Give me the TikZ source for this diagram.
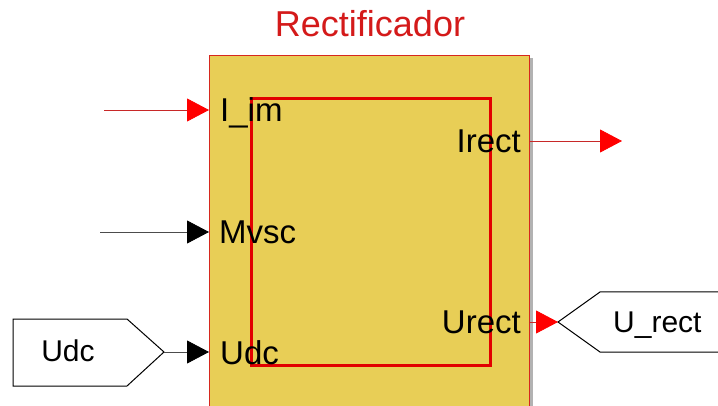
\documentclass[tikz,border=0pt]{standalone}
\usepackage{fontspec}
\setmainfont{Liberation Sans}
\usetikzlibrary{arrows.meta}
\definecolor{blkyellow}{RGB}{232,206,86}
\definecolor{blkborder}{RGB}{214,40,30}
\definecolor{innerred}{RGB}{226,0,0}
\definecolor{titlered}{RGB}{212,26,26}
\definecolor{sigred}{RGB}{200,40,40}
\begin{document}
\begin{tikzpicture}[x=1pt,y=-1pt,
  lbl/.style={inner sep=0pt, font=\fontsize{33}{38}\selectfont},
  glbl/.style={inner sep=0pt, font=\fontsize{30}{34}\selectfont},
  redsig/.style={draw=sigred, line width=0.8pt, -{Triangle[length=22pt,width=23pt,fill=red,color=red]}},
  blksig/.style={draw=black!70, line width=0.8pt, -{Triangle[length=22pt,width=23pt,fill=black,color=black]}},
  gotoshape/.style={draw=black, fill=white, line width=1pt}]
\clip (0,0) rectangle (718,406);
\fill[white] (0,0) rectangle (718,406);
% title
\node[inner sep=0pt, font=\fontsize{36}{40}\selectfont, text=titlered] (title) at (370,24) {Rectificador};
% shadow and block
\fill[black!30] (212,58) rectangle (533,420);
\node[draw=blkborder, fill=blkyellow, line width=1pt, minimum width=320pt, minimum height=370pt, anchor=north west, inner sep=0pt] (blk) at (209,55) {};
\draw[innerred, line width=3pt] (251,99) rectangle (490,365);
% port coordinates
\coordinate (pim) at (209,110);
\coordinate (pmvsc) at (209,232);
\coordinate (pudc) at (209,352);
\coordinate (pirect) at (529,141);
\coordinate (purect) at (529,322);
% port labels
\node[lbl, anchor=base west] (lim) at (220,122) {I\_im};
\node[lbl, anchor=base west] (lmvsc) at (219,244) {Mvsc};
\node[lbl, anchor=base west] (ludc) at (220,364) {Udc};
\node[lbl, anchor=base east] (lirect) at (521,153) {Irect};
\node[lbl, anchor=base east] (lurect) at (521,334) {Urect};
% sources / ends
\coordinate (imsrc) at (104,110);
\coordinate (mvscsrc) at (100,232);
\coordinate (irectend) at (622,141);
% goto block Udc
\draw[gotoshape] (13,319) -- (127,319) -- (164,352) -- (127,386) -- (13,386) -- cycle;
\coordinate (udctip) at (164,352);
\node[glbl] (udcgoto) at (68,351) {Udc};
% goto block U_rect
\draw[gotoshape] (558,322) -- (600,292) -- (730,292) -- (730,352) -- (600,352) -- cycle;
\coordinate (urecttip) at (558,322);
\node[glbl, anchor=base west] (urectgoto) at (613,333) {U\_rect};
% connectors
\draw[redsig] (imsrc) -- (pim);
\draw[blksig] (mvscsrc) -- (pmvsc);
\draw[blksig] (udctip) -- (pudc);
\draw[redsig] (pirect) -- (irectend);
\draw[redsig] (purect) -- (urecttip);
\end{tikzpicture}
\end{document}
